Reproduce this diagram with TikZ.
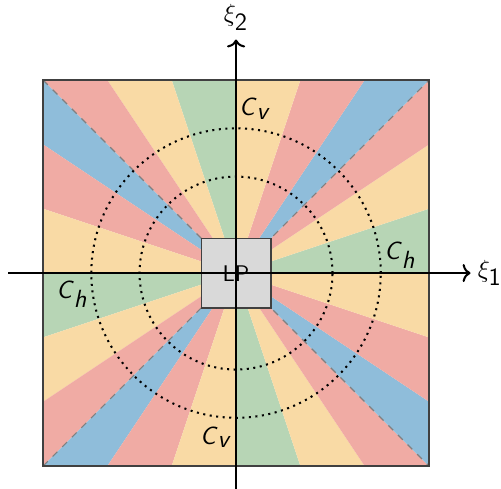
\documentclass[tikz,border=0pt]{standalone}
\usetikzlibrary{arrows.meta,positioning}
\definecolor{wred}{RGB}{240,171,164}
\definecolor{wyellow}{RGB}{249,218,165}
\definecolor{wgreen}{RGB}{183,213,181}
\definecolor{wblue}{RGB}{143,189,218}
\definecolor{lpgray}{RGB}{217,217,217}
\newcommand{\sfit}[1]{\textsf{\textit{#1}}}

\begin{document}
\begin{tikzpicture}[x=3cm, y=3cm,
  lbl/.style={font=\sffamily\fontsize{11}{13}\selectfont, inner sep=1pt},
  ring/.style={dotted, line width=0.9pt},
  diag/.style={gray, dashed, line width=0.5pt},
  axis/.style={-{To[length=3.5pt, width=8pt]}, line width=0.9pt},
  frame/.style={draw=black!75, line width=0.7pt}]
\useasboundingbox (-1.223,-1.114) rectangle (1.373,1.415);

% wedges, one quadrant turned four times
\foreach \r in {0,90,180,270}{
  \begin{scope}[rotate=\r]
    \fill[wgreen]  (0,0) -- (1,0) -- (1,1/3) -- cycle;
    \fill[wyellow] (0,0) -- (1,1/3) -- (1,2/3) -- cycle;
    \fill[wred]    (0,0) -- (1,2/3) -- (1,1) -- cycle;
    \fill[wblue]   (0,0) -- (1,1) -- (2/3,1) -- cycle;
    \fill[wred]    (0,0) -- (2/3,1) -- (1/3,1) -- cycle;
    \fill[wyellow] (0,0) -- (1/3,1) -- (0,1) -- cycle;
  \end{scope}}

\draw[diag] (-1,-1) -- (1,1);
\draw[diag] (-1,1) -- (1,-1);
\draw[frame] (-1,-1) rectangle (1,1);

\draw[ring] (0,0) circle (0.5);
\draw[ring] (0,0) circle (0.75);

\fill[lpgray] (-0.18,-0.18) rectangle (0.18,0.18);
\draw[frame] (-0.18,-0.18) rectangle (0.18,0.18);

% axes
\coordinate (xl) at (-1.18,0);
\coordinate (xr) at (1.215,0);
\coordinate (yb) at (0,-1.12);
\coordinate (yt) at (0,1.21);
\draw[axis] (xl) -- (xr);
\draw[axis] (yb) -- (yt);
\node[lbl, inner sep=0pt, right=3pt of xr] (xi1) {$\xi_{\textsf{1}}$};
\node[lbl, inner sep=0pt, above=4pt of yt] (xi2) {$\xi_{\textsf{2}}$};

\node[lbl, font=\sffamily\normalsize] (lp) at (0,-0.005) {LP};
\node[lbl] (cvt) at (0.098,0.85) {$\sfit{C}_{\sfit{v}}$};
\node[lbl] (cvb) at (-0.104,-0.85) {$\sfit{C}_{\sfit{v}}$};
\node[lbl] (chr) at (0.85,0.093) {$\sfit{C}_{\sfit{h}}$};
\node[lbl] (chl) at (-0.85,-0.11) {$\sfit{C}_{\sfit{h}}$};
\end{tikzpicture}
\end{document}
